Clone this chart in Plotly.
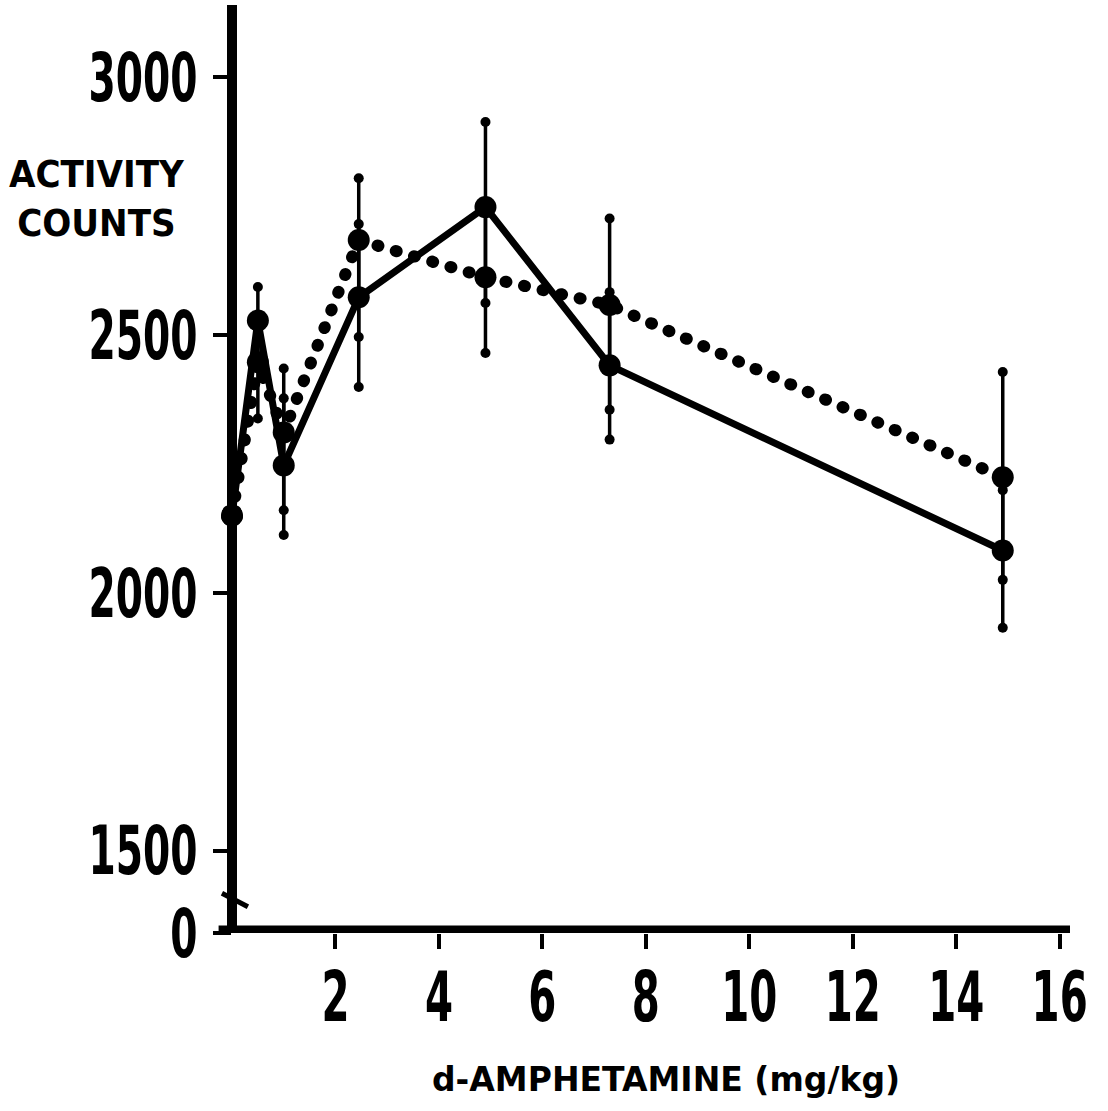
import plotly.graph_objects as go

# d-amphetamine dose (mg/kg)
dose = [0, 0.5, 1, 2.45, 4.9, 7.3, 14.9]

# Group drawn with the solid line
solid_counts = [2150, 2528, 2247, 2573, 2748, 2441, 2082]
solid_err_up = [0, 65, 130, 142, 165, 142, 117]
solid_err_down = [0, 85, 135, 174, 186, 144, 150]

# Group drawn with the dotted line
dotted_counts = [2150, 2447, 2311, 2684, 2612, 2558, 2224]
dotted_err_up = [0, 80, 124, 120, 143, 168, 204]
dotted_err_down = [0, 109, 151, 188, 147, 203, 199]

y_tickvals = [1340, 1500, 2000, 2500, 3000]
y_ticktext = ["0", "1500", "2000", "2500", "3000"]
x_tickvals = [2, 4, 6, 8, 10, 12, 14, 16]

Y_MIN, Y_MAX = 1340, 3140
X_MIN, X_MAX = 0, 16.2

NUMFONT = "DejaVu Sans Condensed, DejaVu Sans, sans-serif"
HEAVY = "DejaVu Sans Condensed, DejaVu Sans, sans-serif"

fig = go.Figure()


def add_group(counts, up, down, dash):
    fig.add_trace(go.Scatter(
        x=dose, y=counts, mode="lines+markers",
        line=dict(color="black", width=7 if dash == "solid" else 12, dash=dash),
        marker=dict(color="black", size=22),
        error_y=dict(type="data", symmetric=False, array=up, arrayminus=down,
                     color="black", thickness=3.5, width=0),
        cliponaxis=False, showlegend=False, hoverinfo="skip",
    ))
    # round end caps of the error bars
    cap_x, cap_y = [], []
    for d, c, u, m in zip(dose, counts, up, down):
        if u > 0:
            cap_x.append(d); cap_y.append(c + u)
        if m > 0:
            cap_x.append(d); cap_y.append(c - m)
    fig.add_trace(go.Scatter(
        x=cap_x, y=cap_y, mode="markers",
        marker=dict(color="black", size=10),
        cliponaxis=False, showlegend=False, hoverinfo="skip",
    ))


add_group(dotted_counts, dotted_err_up, dotted_err_down, "1px,18px")
add_group(solid_counts, solid_err_up, solid_err_down, "solid")

shapes = [
    # vertical axis line
    dict(type="line", xref="paper", yref="paper", x0=0, x1=0, y0=0, y1=1,
         line=dict(color="black", width=10), layer="below"),
    # horizontal axis line
    dict(type="line", xref="paper", yref="y", x0=-0.016, x1=1.0, y0=1347, y1=1347,
         line=dict(color="black", width=8), layer="below"),
    # axis break mark
    dict(type="line", xref="paper", yref="y", x0=-0.012, x1=0.019, y0=1417, y1=1391,
         line=dict(color="black", width=5), layer="below"),
]

fig.update_layout(
    width=1108, height=1111,
    margin=dict(l=232, r=33, t=5, b=178),
    paper_bgcolor="white", plot_bgcolor="white",
    shapes=shapes,
    xaxis=dict(
        range=[X_MIN, X_MAX], showgrid=False, zeroline=False, showline=False,
        tickmode="array", tickvals=x_tickvals,
        ticks="outside", ticklen=15, tickwidth=4, tickcolor="black",
        ticklabelstandoff=-12, ticklabeloverflow="allow",
        tickfont=dict(family=NUMFONT, size=70, color="black", weight="bold"),
    ),
    yaxis=dict(
        range=[Y_MIN, Y_MAX], showgrid=False, zeroline=False, showline=False,
        tickmode="array", tickvals=y_tickvals, ticktext=y_ticktext,
        ticks="outside", ticklen=18, tickwidth=4, tickcolor="black",
        ticklabelstandoff=2, ticklabeloverflow="allow",
        tickfont=dict(family=NUMFONT, size=68, color="black", weight="bold"),
    ),
    annotations=[
        dict(text="ACTIVITY<br>COUNTS", xref="paper", yref="paper",
             x=-0.1613, y=0.792, xanchor="center", yanchor="middle",
             showarrow=False,
             font=dict(family=HEAVY, size=38, color="black", weight="bold")),
        dict(text="d-AMPHETAMINE (mg/kg)", xref="paper", yref="paper",
             x=0.518, y=-0.158, xanchor="center", yanchor="middle",
             showarrow=False,
             font=dict(family="DejaVu Sans, sans-serif", size=33, color="black",
                       weight="bold")),
    ],
)

# Round line caps for the dotted line, and tall narrow tick numerals
page_js = """
var s = document.createElement('style');
s.textContent = '.scatterlayer .js-line{stroke-linecap:round;stroke-linejoin:round;}';
document.head.appendChild(s);
document.querySelectorAll('.xtick text, .ytick text').forEach(function(t){
  var x = parseFloat(t.getAttribute('x')) || 0;
  var y = parseFloat(t.getAttribute('y')) || 0;
  var prev = t.getAttribute('transform') || '';
  t.setAttribute('transform', prev + ' translate(' + x + ',' + y + ') scale(0.64,1) translate(' + (-x) + ',' + (-y) + ')');
});
"""

fig.write_html("out.html", post_script=page_js)
